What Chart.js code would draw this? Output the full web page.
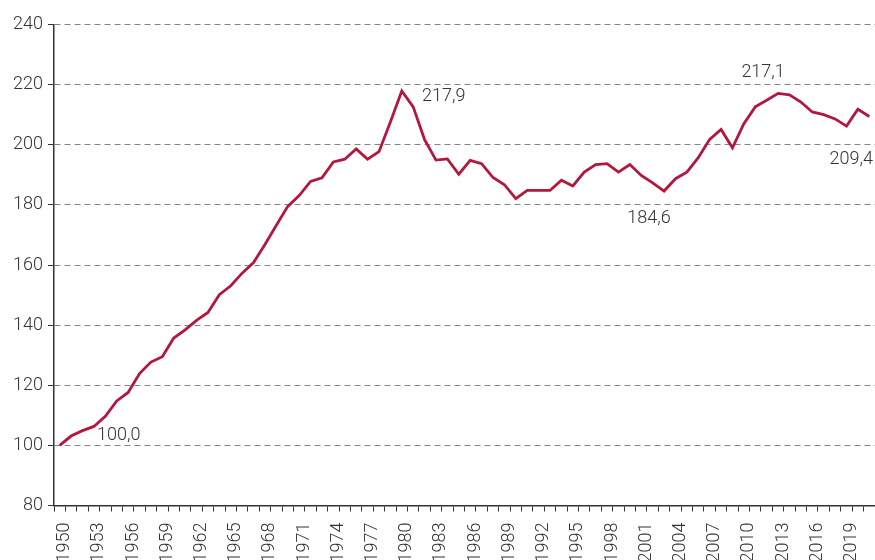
<!DOCTYPE html>
<html>
<head>
<meta charset="utf-8">
<script src="https://cdn.jsdelivr.net/npm/chart.js@4/dist/chart.umd.min.js"></script>
<style>
  html, body { margin: 0; padding: 0; background: #fff; overflow: hidden; }
  #wrap { width: 875px; height: 560px; }
</style>
</head>
<body>
<div id="wrap"><canvas id="chart" width="875" height="560"></canvas></div>
<script>
const years = [
  1950, 1951, 1952, 1953, 1954, 1955, 1956, 1957, 1958, 1959,
  1960, 1961, 1962, 1963, 1964, 1965, 1966, 1967, 1968, 1969,
  1970, 1971, 1972, 1973, 1974, 1975, 1976, 1977, 1978, 1979,
  1980, 1981, 1982, 1983, 1984, 1985, 1986, 1987, 1988, 1989,
  1990, 1991, 1992, 1993, 1994, 1995, 1996, 1997, 1998, 1999,
  2000, 2001, 2002, 2003, 2004, 2005, 2006, 2007, 2008, 2009,
  2010, 2011, 2012, 2013, 2014, 2015, 2016, 2017, 2018, 2019,
  2020, 2021
];
const index = [
  100.0, 103.1, 104.9, 106.3, 109.7, 114.8, 117.6, 123.9, 127.7, 129.5,
  135.7, 138.4, 141.6, 144.2, 150.1, 153.1, 157.3, 160.8, 166.8, 173.2,
  179.5, 183.1, 187.8, 189.0, 194.3, 195.2, 198.6, 195.2, 197.7, 207.6,
  217.9, 212.6, 201.7, 194.9, 195.3, 190.2, 194.8, 193.7, 189.1, 186.7,
  182.1, 184.8, 184.8, 184.8, 188.2, 186.3, 190.9, 193.4, 193.7, 190.9,
  193.4, 189.8, 187.3, 184.6, 188.7, 190.9, 195.7, 201.8, 205.1, 199.0,
  207.0, 212.6, 214.8, 217.1, 216.6, 214.2, 210.9, 210.0, 208.6, 206.2,
  211.8, 209.4
];
// years whose value is written next to the line
const markedYears = [1950, 1980, 2003, 2013, 2021];
const yMin = 80, yMax = 240, yStep = 20;

const textColor = '#333';
const font = { family: 'Roboto', size: 18, weight: '300' };

// where each value label sits relative to its point (px)
const notePlacement = {
  1950: [59, -10],
  1980: [42, 6],
  2003: [-15, 27],
  2013: [-15, -21],
  2021: [-18, 43]
};

const valueNotes = {
  id: 'valueNotes',
  afterDatasetsDraw(chart) {
    const { ctx, scales: { x, y } } = chart;
    ctx.save();
    ctx.font = font.weight + ' ' + font.size + 'px ' + font.family;
    ctx.fillStyle = textColor;
    ctx.textAlign = 'center';
    ctx.textBaseline = 'middle';
    markedYears.forEach(yr => {
      const i = years.indexOf(yr);
      const v = index[i];
      const [dx, dy] = notePlacement[yr];
      ctx.fillText(v.toFixed(1).replace('.', ','), x.getPixelForValue(i) + dx, y.getPixelForValue(v) + dy);
    });
    ctx.restore();
  }
};

new Chart(document.getElementById('chart'), {
  type: 'line',
  data: {
    labels: years,
    datasets: [{
      data: index,
      borderColor: '#b3173d',
      borderWidth: 2.8,
      tension: 0,
      pointRadius: 0,
      fill: false
    }]
  },
  options: {
    responsive: false,
    animation: false,
    layout: { padding: { top: 24.5, left: 0, right: 0, bottom: 0 } },
    plugins: { legend: { display: false }, tooltip: { enabled: false } },
    scales: {
      x: {
        offset: true,
        grid: { offset: true, drawOnChartArea: false, tickLength: 6, tickColor: textColor, tickWidth: 1 },
        border: { color: textColor, width: 1.5 },
        ticks: {
          autoSkip: false,
          minRotation: 90,
          maxRotation: 90,
          padding: 11,
          labelOffset: 5,
          color: textColor,
          font: font,
          callback: (v, i) => years[i] % 3 === 0 ? String(years[i]) : ''
        },
        afterFit: s => { s.height = 54.5; s.paddingLeft = 0; s.paddingRight = 0; }
      },
      y: {
        min: yMin,
        max: yMax,
        ticks: { stepSize: yStep, padding: 5, color: textColor, font: font },
        grid: {
          color: c => c.tick && c.tick.value === yMin ? 'rgba(0,0,0,0)' : '#858585',
          lineWidth: 1,
          tickLength: 6,
          tickColor: textColor,
          tickWidth: 1,
          tickBorderDash: []
        },
        border: { color: textColor, width: 1.5, dash: [6, 4] },
        afterFit: s => { s.width = 54; s.paddingTop = 0; s.paddingBottom = 0; }
      }
    }
  },
  plugins: [valueNotes]
});
</script>
</body>
</html>
